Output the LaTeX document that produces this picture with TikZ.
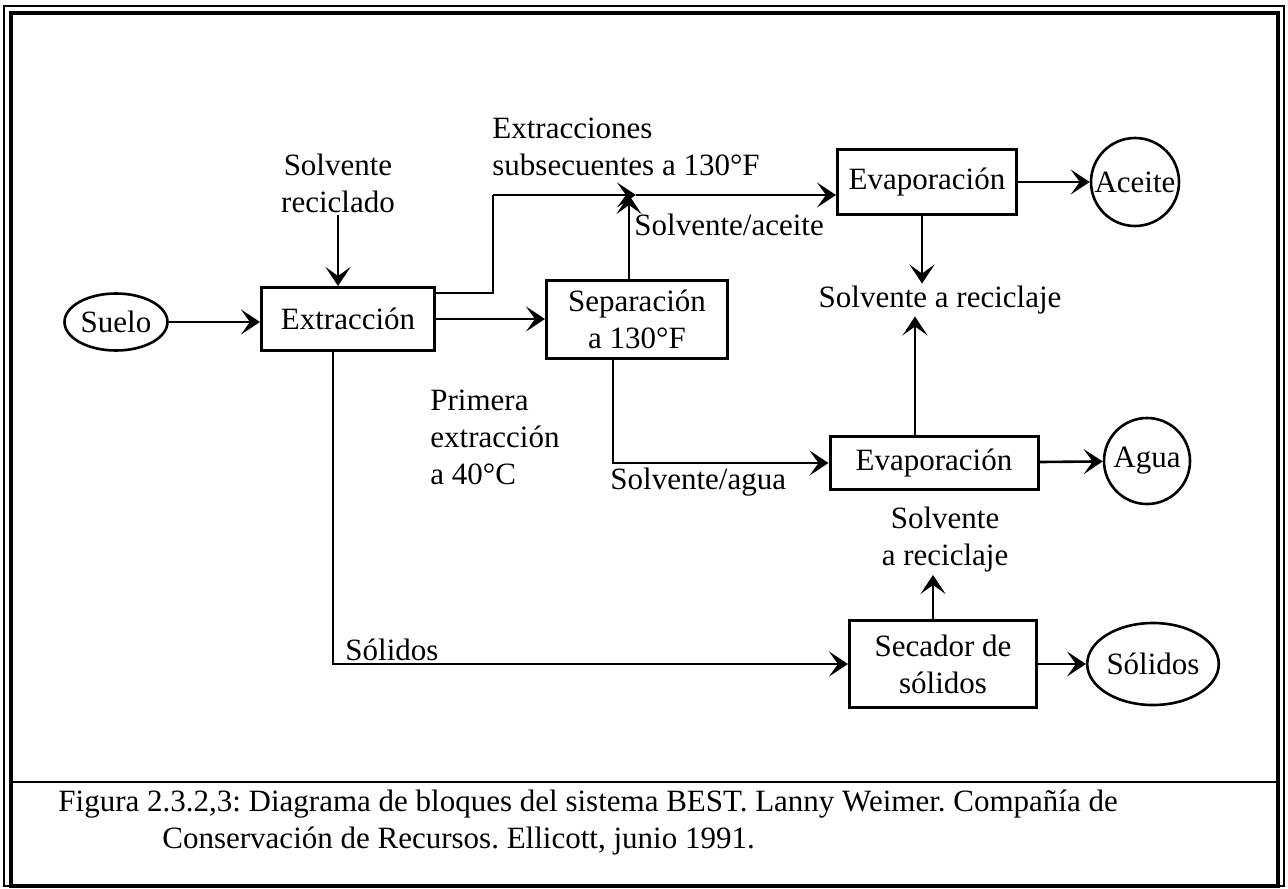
\documentclass[tikz,border=0pt]{standalone}
\usepackage{fontspec}
\setmainfont{Liberation Serif}
\usetikzlibrary{arrows.meta,shapes.geometric}
\frenchspacing

\begin{document}
\begin{tikzpicture}[x=0.5pt,y=-0.5pt,
  font=\fontsize{15.5}{18.5}\selectfont,
  blockbox/.style={draw,line width=1.5pt,align=center,inner sep=2pt},
  ovalnode/.style={draw,ellipse,line width=1.3pt,inner sep=0pt},
  endcircle/.style={draw,circle,line width=1.3pt,inner sep=0pt},
  textlbl/.style={inner sep=1pt},
  flow/.style={line width=1.3pt,-{Stealth[length=9.5pt,width=12.5pt,inset=4.5pt]}},
  plain/.style={line width=1.3pt}]
\useasboundingbox (0,0) rectangle (1288,888);

% marco
\draw[line width=0.8pt] (4,6) rectangle (1284,886);
\draw[line width=1.6pt] (11,13) rectangle (1278,886);
\draw[line width=1.3pt] (11,782) -- (1278,782);

% bloques
\node[ovalnode,minimum width=51.5pt,minimum height=28.5pt] (suelo) at (116,322) {Suelo};
\node[blockbox,minimum width=86.5pt,minimum height=31.5pt] (extr) at (348,319) {Extracción};
\node[blockbox,minimum width=90.5pt,minimum height=39pt] (sep) at (637,319) {Separación\\a 130°F};
\node[blockbox,minimum width=89.5pt,minimum height=32.5pt] (evapA) at (927,182) {Evaporación};
\node[endcircle,minimum size=44pt] (aceite) at (1135,182) {Aceite};
\node[blockbox,minimum width=104pt,minimum height=26.5pt] (evapB) at (934,463) {Evaporación};
\node[endcircle,minimum size=43pt] (agua) at (1147,461) {Agua};
\node[blockbox,minimum width=93.5pt,minimum height=43.5pt] (secador) at (943,664) {Secador de\\sólidos};
\node[ovalnode,minimum width=60pt,minimum height=41pt] (solout) at (1153,664) {Sólidos};

% textos
\node[textlbl,align=center] (solvrec) at (338,183) {Solvente\\reciclado};
\node[textlbl,align=left,anchor=west] (extrsub) at (490,147) {Extracciones\\subsecuentes a 130°F};
\node[textlbl,anchor=west] (solvac) at (632,225) {Solvente/aceite};
\node[textlbl] (recA) at (940,300) {Solvente a reciclaje};
\node[textlbl,align=left,anchor=west] (primera) at (428,437) {Primera\\extracción\\a 40°C};
\node[textlbl,anchor=west] (solvag) at (608,482) {Solvente/agua};
\node[textlbl,align=center] (recB) at (945,540) {Solvente\\a reciclaje};
\node[textlbl,anchor=west] (sollbl) at (343,650) {Sólidos};

% puntos de quiebre
\coordinate (c1) at (493,293);
\coordinate (c2) at (493,195);
\coordinate (join) at (636,195);

% conexiones
\draw[flow] (suelo.east) -- (suelo.east -| extr.west);
\draw[flow] (solvrec.south) -- (solvrec.south |- extr.north);
\draw[flow] (extr.east) -- (extr.east -| sep.west);
\draw[plain] (extr.east |- c1) -- (c1) -- (c2);
\draw[flow] (c2) -- (join);
\draw[flow] (join) -- (join -| evapA.west);
\draw[flow] ([xshift=-4pt]sep.north) -- ([xshift=-4pt]sep.north |- join);
\draw[flow] (evapA) -- (aceite);
\draw[flow] ([xshift=-2.5pt]evapA.south) -- ([xshift=-2.5pt]evapA.south |- recA.north);
\draw[flow] ([xshift=-9.5pt]evapB.north) -- ([xshift=-9.5pt]evapB.north |- recA.south);
\draw[flow] ([xshift=-12pt]sep.south) |- (evapB.west);
\draw[flow] (evapB) -- (agua);
\draw[flow] ([xshift=-7.5pt]extr.south) |- (secador.west);
\draw[flow] (secador) -- (solout);
\draw[flow] ([xshift=-5pt]secador.north) -- ([xshift=-5pt]secador.north |- recB.south);

% leyenda
\node[anchor=north west,align=left,inner sep=0pt] (leyenda) at (58,790)
  {Figura 2.3.2,3: Diagrama de bloques del sistema BEST. Lanny Weimer. Compañía de\\
   \hspace*{52pt}Conservación de Recursos. Ellicott, junio 1991.};
\end{tikzpicture}
\end{document}
